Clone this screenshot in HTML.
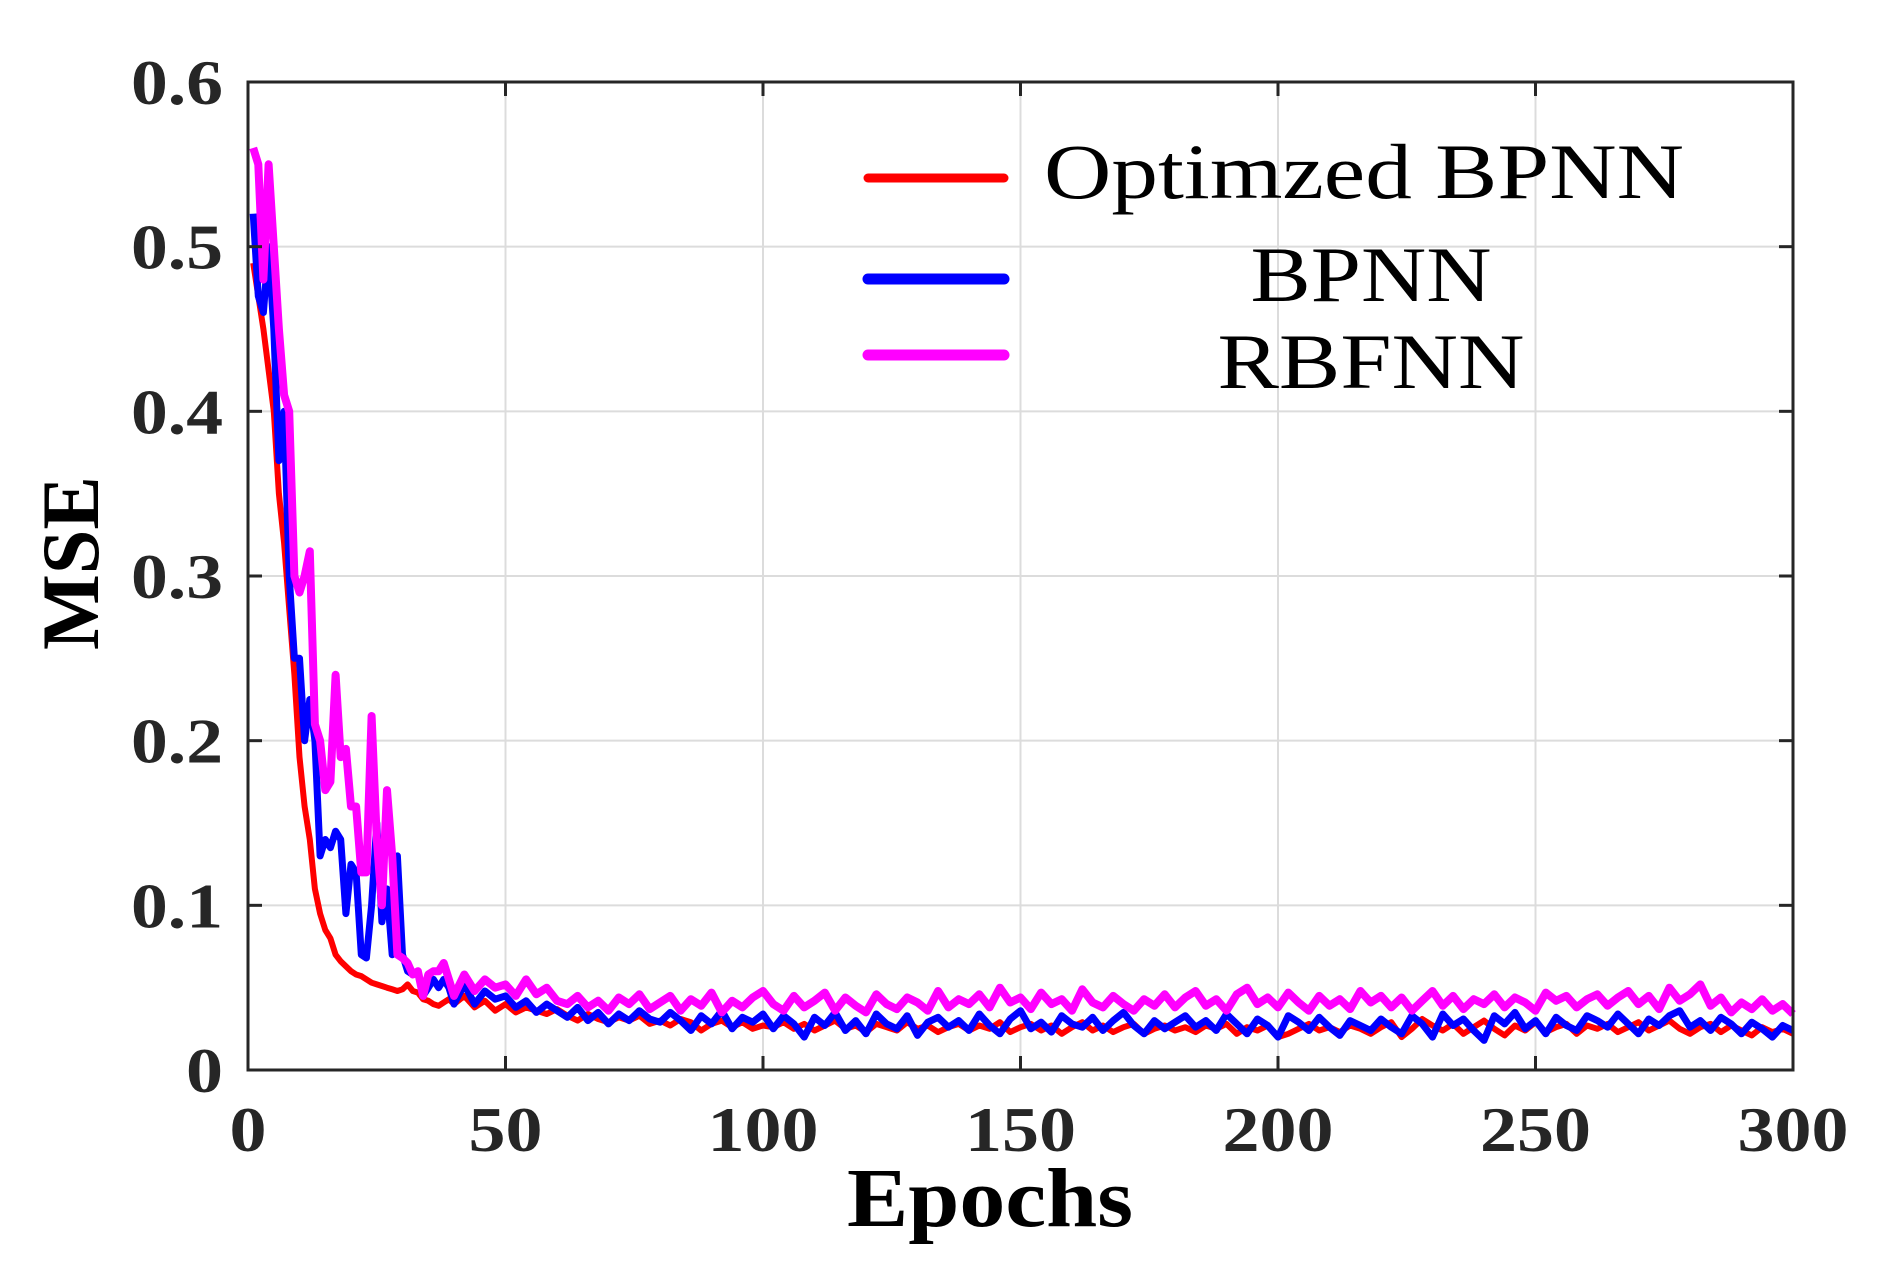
<!DOCTYPE html>
<html><head><meta charset="utf-8"><style>
html,body{margin:0;padding:0;background:#fff;}
svg{display:block;}
text{font-family:"Liberation Serif",serif;}
</style></head><body>
<svg id="chart" width="1878" height="1265" viewBox="0 0 1878 1265" xmlns="http://www.w3.org/2000/svg">
<g id="grid"></g>
<g id="series"></g>
<g id="axes"></g>
<text x="990" y="1226" text-anchor="middle" font-size="84" font-weight="bold" fill="#000" textLength="286" lengthAdjust="spacingAndGlyphs">Epochs</text>
<text transform="translate(98,563) rotate(-90)" text-anchor="middle" font-size="82" font-weight="bold" fill="#000" textLength="174" lengthAdjust="spacingAndGlyphs">MSE</text>
<g>
<line x1="868" y1="178" x2="1004" y2="178" stroke="#ff0000" stroke-width="9" stroke-linecap="round"/>
<line x1="868" y1="279" x2="1004" y2="279" stroke="#0000ff" stroke-width="11" stroke-linecap="round"/>
<line x1="868" y1="355" x2="1004" y2="355" stroke="#ff00ff" stroke-width="11" stroke-linecap="round"/>
<text x="1364" y="198" text-anchor="middle" font-size="78" fill="#000" textLength="640" lengthAdjust="spacingAndGlyphs">Optimzed BPNN</text>
<text x="1371" y="301" text-anchor="middle" font-size="78" fill="#000" textLength="241" lengthAdjust="spacingAndGlyphs">BPNN</text>
<text x="1371" y="388" text-anchor="middle" font-size="78" fill="#000" textLength="307" lengthAdjust="spacingAndGlyphs">RBFNN</text>
</g>
</svg>
<script>
const epochs=[1,2,3,4,5,6,7,8,9,10,11,12,13,14,15,16,17,18,19,20,21,22,23,24,25,26,27,28,29,30,31,32,33,34,35,36,37,38,39,40,
42,44,46,48,50,52,54,56,58,60,62,64,66,68,70,72,74,76,78,80,82,84,86,88,90,92,94,96,98,100,
102,104,106,108,110,112,114,116,118,120,122,124,126,128,130,132,134,136,138,140,
142,144,146,148,150,152,154,156,158,160,162,164,166,168,170,172,174,176,178,180,
182,184,186,188,190,192,194,196,198,200,202,204,206,208,210,212,214,216,218,220,
222,224,226,228,230,232,234,236,238,240,242,244,246,248,250,252,254,256,258,260,
262,264,266,268,270,272,274,276,278,280,282,284,286,288,290,292,294,296,298,300];
const optimizedBpnn=[0.49,0.47,0.45,0.425,0.40,0.35,0.32,0.28,0.24,0.19,0.16,0.14,0.11,0.095,0.085,0.08,0.07,0.066,0.063,0.060,0.058,0.057,0.055,0.053,0.052,0.051,0.050,0.049,0.048,0.049,0.052,0.048,0.047,0.043,0.042,0.040,0.039,0.041,0.043,0.040,
.045,.038,.042,.036,.040,.035,.038,.036,.034,.037,
.033,.030,.034,.031,.029,.032,.030,.033,.028,.030,.027,.031,.029,.024,.028,.030,.026,.029,.025,.027,
.026,.029,.025,.028,.024,.027,.030,.025,.027,.023,.028,.026,.024,.029,.025,.027,.023,.026,.028,.024,
.027,.025,.029,.023,.026,.028,.024,.027,.022,.026,.029,.024,.027,.023,.026,.028,.022,.025,.027,.024,
.026,.023,.027,.025,.028,.022,.026,.024,.027,.020,.022,.025,.028,.024,.026,.023,.027,.025,.022,.026,
.029,.020,.025,.031,.027,.024,.028,.022,.026,.030,.025,.021,.027,.024,.029,.023,.026,.028,.022,.027,
.025,.028,.023,.026,.029,.024,.027,.030,.025,.022,.026,.028,.023,.027,.024,.021,.026,.023,.025,.022];
const bpnn=[0.52,0.47,0.46,0.50,0.45,0.37,0.40,0.30,0.25,0.25,0.20,0.225,0.20,0.13,0.14,0.135,0.145,0.14,0.095,0.125,0.12,0.07,0.068,0.10,0.15,0.09,0.11,0.07,0.13,0.07,0.06,0.058,0.06,0.045,0.05,0.055,0.05,0.055,0.05,0.04,
.052,.040,.048,.043,.045,.038,.042,.035,.040,.036,
.032,.038,.030,.035,.028,.034,.030,.036,.031,.029,.035,.030,.024,.033,.028,.036,.025,.032,.029,.034,
.025,.033,.028,.020,.032,.027,.035,.024,.030,.022,.034,.028,.025,.033,.021,.029,.032,.026,.030,.024,
.034,.027,.022,.031,.036,.025,.029,.023,.033,.028,.026,.032,.024,.030,.035,.027,.022,.030,.025,.029,
.033,.026,.030,.024,.034,.028,.022,.031,.027,.020,.033,.029,.024,.032,.026,.021,.030,.027,.024,.031,
.026,.022,.033,.028,.020,.034,.027,.031,.024,.018,.033,.028,.035,.025,.030,.022,.032,.027,.024,.033,
.030,.026,.034,.028,.022,.031,.027,.033,.036,.026,.030,.024,.032,.028,.022,.029,.025,.020,.027,.024];
const rbfnn=[0.56,0.55,0.48,0.55,0.50,0.45,0.41,0.40,0.30,0.29,0.30,0.315,0.21,0.20,0.17,0.175,0.24,0.19,0.195,0.16,0.16,0.12,0.12,0.215,0.14,0.10,0.17,0.13,0.07,0.068,0.065,0.058,0.06,0.045,0.058,0.06,0.06,0.065,0.055,0.045,
.058,.048,.055,.050,.052,.045,.055,.046,.050,.042,
.040,.045,.038,.042,.036,.044,.040,.046,.037,.041,.045,.036,.043,.039,.047,.035,.042,.038,.044,.048,
.040,.036,.045,.038,.042,.047,.036,.044,.039,.035,.046,.040,.037,.044,.041,.036,.048,.038,.043,.040,
.046,.038,.050,.041,.044,.037,.047,.040,.043,.036,.049,.041,.038,.045,.040,.036,.043,.039,.046,.038,
.044,.048,.039,.043,.036,.046,.050,.040,.044,.038,.047,.041,.036,.045,.039,.043,.037,.048,.041,.045,
.038,.044,.036,.042,.048,.039,.045,.037,.043,.040,.046,.038,.044,.041,.036,.047,.042,.045,.038,.043,
.046,.039,.044,.048,.040,.045,.037,.050,.042,.046,.052,.039,.044,.035,.041,.037,.043,.036,.040,.034];
const xTicks=[0,50,100,150,200,250,300];
const yTicks=[0,0.1,0.2,0.3,0.4,0.5,0.6];
const yTickLabels=["0","0.1","0.2","0.3","0.4","0.5","0.6"];

const NS="http://www.w3.org/2000/svg";
const L=248,R=1793,T=82,B=1070;
const xs=v=>L+(v-0)/(300-0)*(R-L);
const ys=v=>B-(v-0)/(0.6-0)*(B-T);
function mk(tag,attrs,parent){const e=document.createElementNS(NS,tag);for(const k in attrs)e.setAttribute(k,attrs[k]);parent.appendChild(e);return e;}
function tlen(s){let w=0;for(const c of s)w+=(c==='.'?18:37);return w;}
const grid=document.getElementById('grid'),axes=document.getElementById('axes'),series=document.getElementById('series');
xTicks.forEach((t,i)=>{
  if(t>0&&t<300){const g=mk('line',{x1:xs(t),x2:xs(t),y1:T,y2:B,stroke:'#dcdcdc','stroke-width':2},grid);
  
  }
  const tk=mk('line',{x1:xs(t),x2:xs(t),y1:B,y2:B-14,stroke:'#262626','stroke-width':3},axes);
  
  
  const tk2=mk('line',{x1:xs(t),x2:xs(t),y1:T,y2:T+14,stroke:'#262626','stroke-width':3},axes);
  
  
  const s=String(t);
  const lb=mk('text',{x:xs(t),y:1151,'text-anchor':'middle','font-size':64,'font-weight':'bold',fill:'#262626',textLength:tlen(s),lengthAdjust:'spacingAndGlyphs'},axes);
  lb.textContent=s;
  
  
});
yTicks.forEach((t,i)=>{
  if(t>0&&t<0.6){const g=mk('line',{x1:L,x2:R,y1:ys(t),y2:ys(t),stroke:'#dcdcdc','stroke-width':2},grid);
  
  }
  const tk=mk('line',{x1:L,x2:L+14,y1:ys(t),y2:ys(t),stroke:'#262626','stroke-width':3},axes);
  
  
  const tk2=mk('line',{x1:R,x2:R-14,y1:ys(t),y2:ys(t),stroke:'#262626','stroke-width':3},axes);
  
  
  const s=yTickLabels[i];
  const lb=mk('text',{x:223-tlen(s),y:ys(t)+22,'text-anchor':'start','font-size':64,'font-weight':'bold',fill:'#262626',textLength:tlen(s),lengthAdjust:'spacingAndGlyphs'},axes);
  lb.textContent=s;
  
  
});
const frame=mk('rect',{x:L,y:T,width:R-L,height:B-T,fill:'none',stroke:'#262626','stroke-width':3},axes);


function line(vals,color,w,name){
  const d=vals.map((v,i)=>(i?'L':'M')+xs(epochs[i]).toFixed(1)+','+ys(v).toFixed(1)).join('');
  const p=mk('path',{d:d,fill:'none',stroke:color,'stroke-width':w,'stroke-linejoin':'round'},series);
  
  
}
line(optimizedBpnn,'#ff0000',6,'line-optimized-bpnn');
line(bpnn,'#0000ff',7,'line-bpnn');
line(rbfnn,'#ff00ff',8,'line-rbfnn');
</script>
</body></html>
